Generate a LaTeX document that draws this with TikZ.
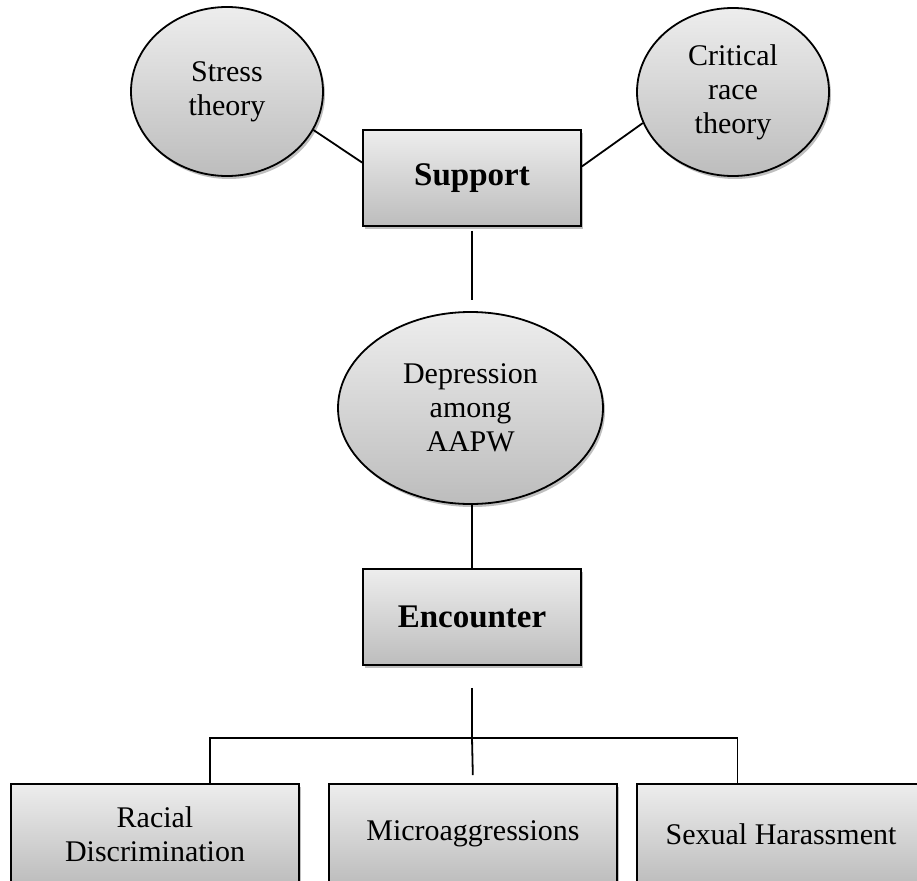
\documentclass[tikz,border=0pt]{standalone}
\usepackage{fontspec}
\setmainfont{Liberation Serif}
\usetikzlibrary{shadows,calc,shapes.geometric}

\tikzset{
    shade box/.style={draw, line width=1.8pt, top color=black!7, bottom color=black!26,
        drop shadow={shadow xshift=2pt, shadow yshift=-3pt, opacity=0.25, fill=black},
        align=center, font=\fontsize{30}{34}\selectfont},
    theory/.style={shade box, ellipse, inner sep=0pt},
    stage/.style={shade box, rectangle, minimum width=218pt, minimum height=96pt,
        font=\fontsize{33}{36}\selectfont\bfseries},
    outcome/.style={shade box, rectangle, minimum width=288pt, minimum height=100pt},
    link/.style={line width=1.8pt}
}

\begin{document}
\begin{tikzpicture}[x=1pt, y=-1pt]
        \clip (0,0) rectangle (917,880);

        % theories on top
        \node[theory, minimum width=192pt, minimum height=169pt] (stress) at (227, 91.5) {Stress\\theory};
        \node[theory, minimum width=192pt, minimum height=168pt] (crt) at (733, 92) {Critical\\race\\theory};

        \node[stage] (support) at (472, 178) {Support};

        \node[theory, minimum width=265pt, minimum height=192pt] (depression) at (470.5, 408) {Depression\\among\\AAPW};

        \node[stage] (encounter) at (472, 617) {Encounter};

        % the three kinds of encounter
        \node[outcome] (racial) at (155, 834) {Racial\\Discrimination};
        \node[outcome] (micro) at (473, 834) {Microaggressions};
        \node[outcome] (sexual) at (781, 834) {Sexual Harassment};

        \draw[link] (stress.-24) -- (support.172);
        \draw[link] (crt.199) -- (support.6);
        \draw[link, shorten <=4pt, shorten >=11pt] (support.south) -- (support.south |- depression.north);
        \draw[link] (encounter.north |- depression.south) -- (encounter.north);

        \coordinate (bus) at ([yshift=-72pt]encounter.south);
        \coordinate (racial top) at ($(racial.north west)!0.69!(racial.north east)$);
        \coordinate (sexual top) at ($(sexual.north west)!0.35!(sexual.north east)$);

        \draw[link, shorten <=22pt] (encounter.south) -- (bus);
        \draw[link] (racial top) |- (bus) -| (sexual top);
        \draw[link, shorten >=8pt] (bus) -- (micro.north);

    \end{tikzpicture}
\end{document}
